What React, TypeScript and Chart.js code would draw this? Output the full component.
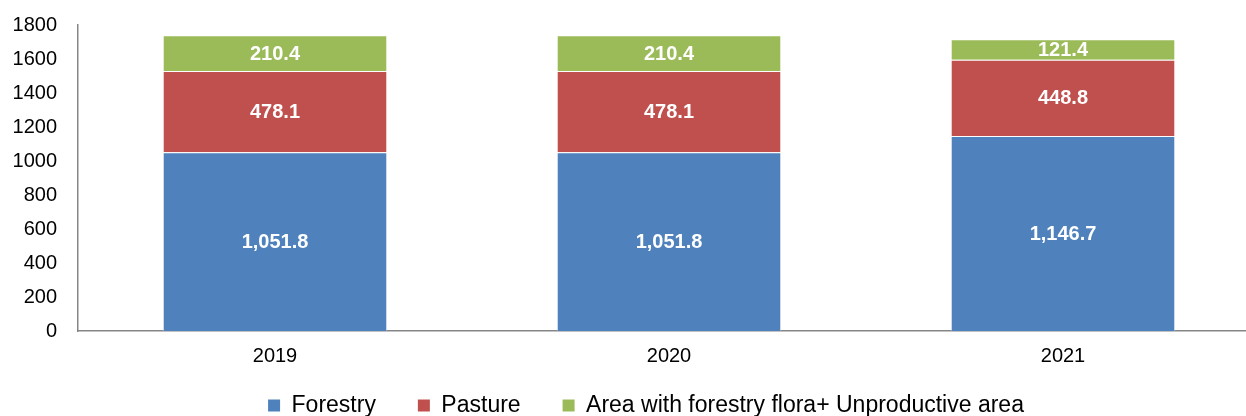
import React, { useEffect, useRef } from "react";
import { Chart, registerables } from "chart.js";

Chart.register(...registerables);

const categories = ["2019", "2020", "2021"];
const seriesNames = ["Forestry", "Pasture", "Area with forestry flora+ Unproductive area"];
const forestry = [1051.8, 1051.8, 1146.7];
const pasture = [478.1, 478.1, 448.8];
const otherArea = [210.4, 210.4, 121.4];
const seriesColors = ["#4F81BD", "#C0504D", "#9BBB59"];
const yTicks = { min: 0, max: 1800, step: 200 };

const FONT = "'Liberation Sans', Arial, Helvetica, sans-serif";

const fmt = (v: number) =>
  v.toLocaleString("en-US", { minimumFractionDigits: 1, maximumFractionDigits: 1 });

const labelPlugin = {
  id: "segLabels",
  afterDatasetsDraw(chart: any) {
    const ctx = chart.ctx;
    ctx.save();
    ctx.fillStyle = "#FFFFFF";
    ctx.font = `bold 20px ${FONT}`;
    ctx.textAlign = "center";
    ctx.textBaseline = "middle";
    chart.data.datasets.forEach((ds: any, di: number) => {
      const meta = chart.getDatasetMeta(di);
      meta.data.forEach((el: any, i: number) => {
        const v = ds.data[i];
        const cy = (el.y + el.base) / 2;
        ctx.fillText(fmt(v), el.x, cy + 1);
      });
    });
    ctx.restore();
  },
};

export default function App() {
  const ref = useRef<HTMLCanvasElement | null>(null);

  useEffect(() => {
    if (!ref.current) return;
    const data = [forestry, pasture, otherArea];
    const chart = new Chart(ref.current, {
      type: "bar",
      data: {
        labels: categories,
        datasets: seriesNames.map((name, i) => ({
          label: name,
          data: data[i],
          backgroundColor: seriesColors[i],
          borderColor: "rgba(255,255,255,0.45)",
          borderWidth: 1,
          barPercentage: 0.57,
          categoryPercentage: 1.0,
        })),
      },
      options: {
        responsive: false,
        animation: false,
        layout: { padding: { top: 25, left: 0, right: 0, bottom: 0 } },
        scales: {
          x: {
            stacked: true,
            grid: { display: false, drawTicks: false },
            border: { display: true, color: "#868686", width: 1.5 },
            ticks: {
              color: "#000000",
              font: { family: FONT, size: 20 },
              padding: 13,
            },
            afterFit: (s: any) => {
              s.height = s.height + 3;
            },
          },
          y: {
            stacked: true,
            min: yTicks.min,
            max: yTicks.max,
            grid: { display: false, drawTicks: true, tickLength: 21 },
            border: { display: true, color: "#868686", width: 1.5 },
            ticks: {
              stepSize: yTicks.step,
              color: "#000000",
              font: { family: FONT, size: 20 },
              padding: 0,
              callback: (v: any) => String(v),
            },
            afterFit: (s: any) => {
              s.width = 78;
            },
          },
          yR: {
            type: "linear",
            position: "right",
            display: true,
            grid: { display: false, drawTicks: false },
            border: { display: false },
            ticks: { display: false },
            afterFit: (s: any) => {
              s.width = 32;
            },
          },
        },
        plugins: {
          tooltip: { enabled: false },
          legend: {
            position: "bottom",
            labels: {
              boxWidth: 12,
              boxHeight: 12,
              padding: 10,
              color: "#000000",
              font: { family: FONT, size: 23 },
              generateLabels: (c: any) =>
                c.data.datasets.map((ds: any, i: number) => ({
                  text: i < c.data.datasets.length - 1 ? ds.label + "     " : ds.label,
                  fillStyle: ds.backgroundColor,
                  strokeStyle: ds.backgroundColor,
                  lineWidth: 0,
                  hidden: false,
                  datasetIndex: i,
                  fontColor: "#000000",
                })),
            },
          },
        },
      },
      plugins: [labelPlugin],
    });
    return () => chart.destroy();
  }, []);

  return (
    <div
      style={{
        position: "fixed",
        left: 0,
        top: 0,
        width: 1246,
        height: 416,
        overflow: "hidden",
        background: "#FFFFFF",
      }}
    >
      <canvas ref={ref} width={1292} height={427} style={{ display: "block" }} />
    </div>
  );
}
